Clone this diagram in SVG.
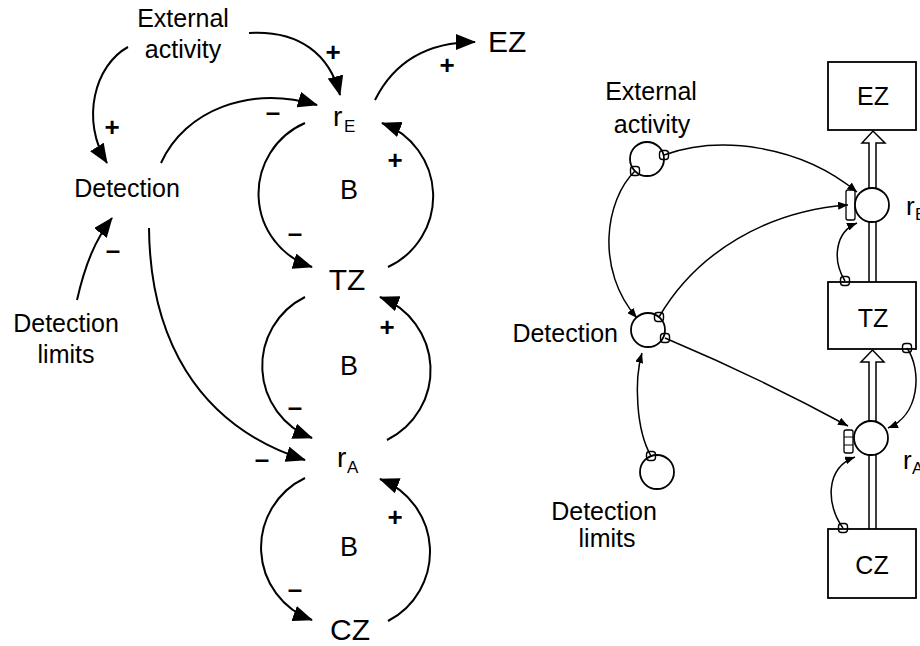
<svg xmlns="http://www.w3.org/2000/svg" width="920" height="646" viewBox="0 0 920 646">
<defs>
<style>
text{font-family:"Liberation Sans",Arial,sans-serif;fill:#000}
.lbl{font-size:25px;text-anchor:middle}
.big{font-size:30px;text-anchor:middle}
.b{font-size:27px;text-anchor:middle}
.sg{font-size:26px;font-weight:bold;text-anchor:middle}
.cl{fill:none;stroke:#000;stroke-width:2;marker-end:url(#ahL)}
.cr{fill:none;stroke:#000;stroke-width:1.5;marker-end:url(#ahR)}
.nd{fill:#fff;stroke:#000;stroke-width:1.8}
.box{fill:#fff;stroke:#000;stroke-width:1.8}
.pipe{fill:none;stroke:#000;stroke-width:1.5}
.mk{fill:#fff;stroke:#000;stroke-width:1.3}
</style>
<marker id="ahL" markerUnits="userSpaceOnUse" viewBox="0 0 20 16" markerWidth="20" markerHeight="16" refX="19" refY="8" orient="auto"><path d="M0,0 L20,8 L0,16 z" fill="#000"/></marker>
<marker id="ahR" markerUnits="userSpaceOnUse" viewBox="0 0 10 8" markerWidth="10" markerHeight="8" refX="10" refY="4" orient="auto"><path d="M0,0 L10,4 L0,8 z" fill="#000"/></marker>
<g id="tap"><rect x="-4.5" y="-4.5" width="9" height="9" rx="3" fill="none" stroke="#000" stroke-width="1.4"/></g>
</defs>
<rect width="920" height="646" fill="#fff"/>

<!-- LEFT: causal loop diagram -->
<g id="connectors-left">
<path class="cl" d="M249,33 C300,30 330,55 340,95"/>
<path class="cl" d="M128,47 C95,65 80,120 107,163"/>
<path class="cl" d="M161,163 C185,110 250,85 317,105"/>
<path class="cl" d="M149,228 C150,335 195,425 305,460"/>
<path class="cl" d="M77,300 C85,265 95,240 112,218"/>
<path class="cl" d="M375,100 C395,60 430,42 475,42"/>
<path class="cl" d="M305,123 A77,77 0 0 0 312,267"/>
<path class="cl" d="M388,267 A78,78 0 0 0 382,123"/>
<path class="cl" d="M305,297 A77,77 0 0 0 312,438"/>
<path class="cl" d="M387,440 A78,78 0 0 0 380,297"/>
<path class="cl" d="M305,478 A77,77 0 0 0 312,620"/>
<path class="cl" d="M388,621 A78,78 0 0 0 380,479"/>
<text class="sg" x="333" y="61">+</text>
<text class="sg" x="112" y="136">+</text>
<text class="sg" x="273" y="121">–</text>
<text class="sg" x="395" y="169">+</text>
<text class="sg" x="295" y="242">–</text>
<text class="sg" x="387" y="336">+</text>
<text class="sg" x="295" y="416">–</text>
<text class="sg" x="262" y="468">–</text>
<text class="sg" x="395" y="526">+</text>
<text class="sg" x="295" y="598">–</text>
<text class="sg" x="113" y="259">–</text>
<text class="sg" x="447" y="74">+</text>
</g>
<g id="L-external"><text class="lbl" x="183" y="27">External</text><text class="lbl" x="183" y="58">activity</text></g>
<g id="L-detection"><text class="lbl" x="127" y="197">Detection</text></g>
<g id="L-limits"><text class="lbl" x="66" y="332">Detection</text><text class="lbl" x="66" y="363">limits</text></g>
<g id="L-rE"><text x="333" y="126" font-size="28">r<tspan x="344" dy="6" font-size="17">E</tspan></text></g>
<g id="L-TZ"><text class="big" x="347" y="290">TZ</text></g>
<g id="L-rA"><text x="337" y="467" font-size="28">r<tspan x="347" dy="6" font-size="17">A</tspan></text></g>
<g id="L-CZ"><text class="big" x="350" y="640">CZ</text></g>
<g id="L-EZ"><text x="488" y="52" font-size="30">EZ</text></g>
<g id="L-loops"><text class="b" x="349" y="199">B</text><text class="b" x="349" y="375">B</text><text class="b" x="349" y="556">B</text></g>

<!-- RIGHT: stock and flow diagram -->
<g id="pipes">
<path class="pipe" d="M869,188 L869,143 L862,143 L873,131 L885,143 L876,143 L876,188" fill="#fff"/>
<path class="pipe" d="M869,222 L869,282 M876,222 L876,282"/>
<path class="pipe" d="M869,421 L869,362 L861,362 L872.5,350 L884,362 L876,362 L876,421" fill="#fff"/>
<path class="pipe" d="M869,455 L869,529 M876,455 L876,529"/>
</g>
<g id="R-EZ"><rect class="box" x="828" y="62" width="88" height="68"/><text class="lbl" x="873" y="105">EZ</text></g>
<g id="R-TZ"><rect class="box" x="828" y="282" width="88" height="67"/><text class="lbl" x="873" y="327">TZ</text></g>
<g id="R-CZ"><rect class="box" x="828" y="529" width="88" height="69"/><text class="lbl" x="872" y="574">CZ</text></g>
<g id="R-rE"><rect x="846" y="190" width="9" height="30" rx="2" class="mk"/><circle class="nd" cx="872" cy="205" r="17"/><text x="906" y="215" font-size="26">r<tspan x="915" dy="5" font-size="17">E</tspan></text></g>
<g id="R-rA"><rect x="844" y="430" width="9" height="23" rx="2" class="mk"/><path d="M844,437 H853 M844,445 H853" stroke="#000" stroke-width="1.2"/><circle class="nd" cx="871" cy="438" r="17"/><text x="903" y="469" font-size="26">r<tspan x="912" dy="5" font-size="17">A</tspan></text></g>
<g id="R-external"><circle class="nd" cx="647" cy="159" r="17"/><text class="lbl" x="651" y="100">External</text><text class="lbl" x="652" y="133">activity</text></g>
<g id="R-detection"><circle class="nd" cx="648" cy="330" r="17"/><text x="618" y="342" font-size="25" text-anchor="end">Detection</text></g>
<g id="R-limits"><circle class="nd" cx="657" cy="472" r="17"/><text class="lbl" x="604" y="520">Detection</text><text class="lbl" x="607" y="547">limits</text></g>
<g id="connectors-right">
<path class="cr" d="M664,155 C720,135 800,145 857,192"/>
<path class="cr" d="M659,317 C697,252 767,211 848,205"/>
<path class="cr" d="M635,171 C605,200 595,270 637,318"/>
<path class="cr" d="M665,338 Q760,378 848,426"/>
<path class="cr" d="M651,456 C636,430 634,380 642,353"/>
<path class="cr" d="M845,281 C832,260 835,232 857,223"/>
<path class="cr" d="M907,348 C922,370 920,415 888,428"/>
<path class="cr" d="M843,528 C826,505 825,468 855,457"/>
<use href="#tap" x="664" y="155"/>
<use href="#tap" x="635" y="171"/>
<use href="#tap" x="659" y="317"/>
<use href="#tap" x="665" y="338"/>
<use href="#tap" x="651" y="456"/>
<use href="#tap" x="845" y="281"/>
<use href="#tap" x="907" y="348"/>
<use href="#tap" x="843" y="528"/>
</g>
</svg>
